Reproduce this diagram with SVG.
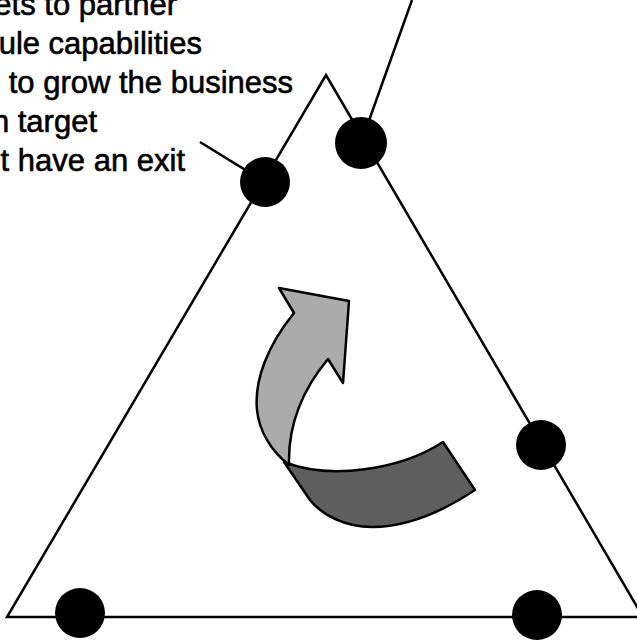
<svg xmlns="http://www.w3.org/2000/svg" width="637" height="640" viewBox="0 0 637 640">
  <style>
    .lbl { font-family: "Liberation Sans", Arial, sans-serif; font-size: 31px; fill: #000; stroke: #000; stroke-width: 0.6; text-anchor: end; }
    .edge { fill: none; stroke: #000; stroke-width: 2.5; stroke-linejoin: miter; }
    .dot { fill: #000; }
    .arrow { stroke: #000; stroke-width: 2.5; stroke-linejoin: round; }
  </style>
  <rect width="637" height="640" fill="#fff"/>
  <g id="labels">
    <text class="lbl" x="177" y="15">ets to partner</text>
    <text class="lbl" x="202" y="54">ule capabilities</text>
    <text class="lbl" x="293" y="93">to grow the business</text>
    <text class="lbl" x="97" y="132">n target</text>
    <text class="lbl" x="185" y="171">t have an exit</text>
  </g>
  <g id="connectors">
    <polyline class="edge" points="643,617 326,75 7,617 643,617"/>
    <line class="edge" x1="361" y1="143" x2="412" y2="0"/>
    <line class="edge" x1="265" y1="182" x2="200" y2="142"/>
  </g>
  <g id="cycle-arrow">
    <path class="arrow" fill="#5e5e5e" d="M 284,462 C 330,480 400,470 443,442 L 475,490 C 445,510 410,527 372,527 C 345,527 322,515 310,500 Z"/>
    <path class="arrow" fill="#ababab" d="M 289,465 C 288,430 298,395 328,359 L 343,383 L 349,301 L 279,288 L 294,313 C 268,345 254,380 257,410 C 259,430 270,450 289,465 Z"/>
  </g>
  <g id="node-top"><circle class="dot" cx="361" cy="143" r="26"/></g>
  <g id="node-left"><circle class="dot" cx="265" cy="182" r="25"/></g>
  <g id="node-right"><circle class="dot" cx="541" cy="445" r="25"/></g>
  <g id="node-bottom-left"><circle class="dot" cx="80" cy="613" r="25"/></g>
  <g id="node-bottom-right"><circle class="dot" cx="537" cy="615" r="25"/></g>
</svg>
